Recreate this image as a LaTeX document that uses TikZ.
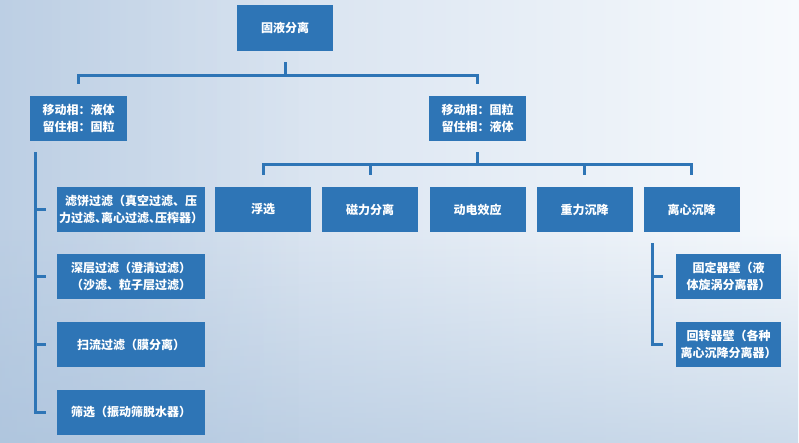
\documentclass[tikz,border=0pt]{standalone}
\usepackage{fontspec}
\newfontfamily\cjk{Noto Sans CJK SC}
\usetikzlibrary{fadings}
\definecolor{boxblue}{HTML}{2E75B6}
\definecolor{bgA}{HTML}{C8D7E9}
\definecolor{bgB}{HTML}{F7FAFD}
\definecolor{bgC}{HTML}{A3BDD9}
\newcommand{\halfdun}{\makebox[0.5em][l]{、}}
\begin{document}
\begin{tikzpicture}[x=1pt,y=-1pt,
  box/.style={fill=boxblue, text=white, inner sep=0pt, align=center,
    font=\cjk\bfseries\fontsize{12}{17}\selectfont},
  sbox/.style={box, minimum width=96pt, minimum height=45pt},
  lbox/.style={box, minimum width=148pt, minimum height=45pt},
  rbox/.style={box, minimum width=105pt, minimum height=45pt},
  link/.style={draw=boxblue, line width=3pt}]
\useasboundingbox (0,0) rectangle (799,443);
% background
\shade[left color=bgA, right color=bgB] (0,0) rectangle (799,443);
\fill[bgC, opacity=0.5, path fading=north] (0,230) rectangle (799,443);
\fill[bgC, opacity=0.3, path fading=east] (0,0) rectangle (300,443);
% nodes
\node[sbox, minimum height=46pt] (top) at (285,28) {固液分离};
\node[box, minimum width=97pt, minimum height=45pt] (L) at (78.5,118.5) {移动相：液体\\留住相：固粒};
\node[box, minimum width=97pt, minimum height=45pt] (R) at (477.5,118.5) {移动相：固粒\\留住相：液体};
\node[lbox] (l1) at (131,209.5) {滤饼过滤（真空过滤、压\\力过滤\halfdun 离心过滤\halfdun 压榨器）};
\node[lbox] (l2) at (131,276.5) {深层过滤（澄清过滤）\\（沙滤、粒子层过滤）};
\node[lbox] (l3) at (131,344.5) {扫流过滤（膜分离）};
\node[lbox] (l4) at (131,412) {筛选（振动筛脱水器）};
\node[sbox] (m1) at (263,209.5) {浮选};
\node[sbox] (m2) at (370,209.5) {磁力分离};
\node[sbox] (m3) at (477.5,209.5) {动电效应};
\node[sbox] (m4) at (584.5,209.5) {重力沉降};
\node[sbox] (m5) at (691.5,209.5) {离心沉降};
\node[rbox] (r1) at (728.5,276.5) {固定器壁（液\\体旋涡分离器）};
\node[rbox] (r2) at (728.5,344.5) {回转器壁（各种\\离心沉降分离器）};
% connectors: top level
\coordinate (hT) at ([yshift=-24pt]top.south);
\draw[link] ([yshift=-11pt]top.south) -- (hT);
\draw[link] ([yshift=12pt]L.north) |- (hT) -| ([yshift=12pt]R.north);
% middle level
\coordinate (hR) at ([yshift=-23pt]R.south);
\draw[link] ([yshift=-11pt]R.south) -- (hR);
\draw[link] ([yshift=12pt]m1.north) |- (hR) -| ([yshift=12pt]m5.north);
\draw[link] ([yshift=12pt]m2.north) -- (m2.north |- hR);
\draw[link] ([yshift=12pt]m4.north) -- (m4.north |- hR);
% left list
\coordinate (lv) at ([xshift=6pt,yshift=-11pt]L.south west);
\draw[link] (lv) |- ([xshift=-11pt]l4.west);
\foreach \n in {l1,l2,l3}
  \draw[link] ([xshift=-11pt]\n.west) -- (lv |- \n.west);
% right list
\coordinate (rv) at ([xshift=9pt,yshift=-11pt]m5.south west);
\draw[link] (rv) |- ([xshift=-13pt]r2.west);
\draw[link] ([xshift=-13pt]r1.west) -- (rv |- r1.west);
\end{tikzpicture}
\end{document}
